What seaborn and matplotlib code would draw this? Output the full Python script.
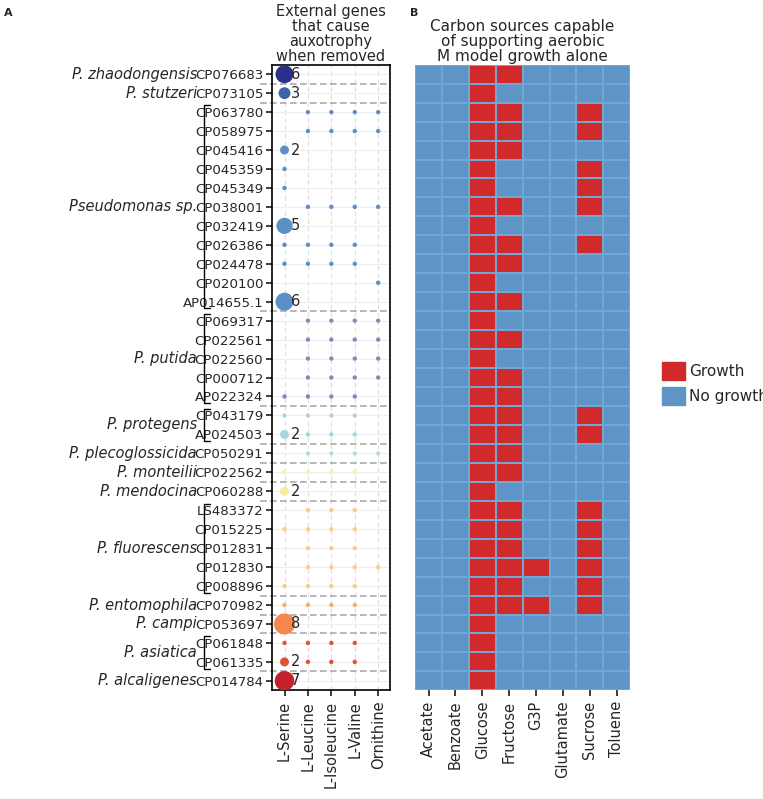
import numpy as np
import pandas as pd
import matplotlib
matplotlib.use("Agg")
import matplotlib.pyplot as plt
import seaborn as sns
from matplotlib.colors import ListedColormap
from matplotlib.patches import Patch
from matplotlib.transforms import blended_transform_factory

strains = ["CP076683","CP073105","CP063780","CP058975","CP045416","CP045359","CP045349",
           "CP038001","CP032419","CP026386","CP024478","CP020100","AP014655.1",
           "CP069317","CP022561","CP022560","CP000712","AP022324",
           "CP043179","AP024503","CP050291","CP022562","CP060288",
           "LS483372","CP015225","CP012831","CP012830","CP008896",
           "CP070982","CP053697","CP061848","CP061335","CP014784"]
species = [("P. zhaodongensis",0,0),("P. stutzeri",1,1),("Pseudomonas sp.",2,12),
           ("P. putida",13,17),("P. protegens",18,19),("P. plecoglossicida",20,20),
           ("P. monteilii",21,21),("P. mendocina",22,22),("P. fluorescens",23,27),
           ("P. entomophila",28,28),("P. campi",29,29),("P. asiatica",30,31),
           ("P. alcaligenes",32,32)]
species_colors = ["#2b2f8c","#3b62ad","#5b8fc6","#8c86b3","#a5d6e8","#b3dcea",
                  "#f3f1c0","#f6eea0","#f8d17f","#f5b064","#f3874c","#dc5437","#c4222a"]
genes = ["L-Serine","L-Leucine","L-Isoleucine","L-Valine","Ornithine"]
serine = [6,3,0,0,2,1,1,0,5,1,1,0,6,0,0,0,0,1,1,2,0,1,2,0,1,0,0,1,1,8,1,2,7]
leucine = [0,0,1,1,0,0,0,1,0,1,1,0,0,1,1,1,1,1,1,1,1,1,0,1,1,1,1,1,1,0,1,1,0]
isoleucine = leucine
valine = leucine
ornithine = [0,0,1,1,0,0,0,1,0,0,0,1,0,1,1,1,1,0,0,0,1,0,0,0,0,0,1,0,0,0,0,0,0]

sources = ["Acetate","Benzoate","Glucose","Fructose","G3P","Glutamate","Sucrose","Toluene"]
fructose = [1,0,1,1,1,0,0,1,0,1,1,0,1,0,1,0,1,1,1,1,1,1,0,1,1,1,1,1,1,0,0,0,0]
g3p = [0,0,0,0,0,0,0,0,0,0,0,0,0,0,0,0,0,0,0,0,0,0,0,0,0,0,1,0,1,0,0,0,0]
sucrose = [0,0,1,1,0,1,1,1,0,1,0,0,0,0,0,0,0,0,1,1,0,0,0,1,1,1,1,1,1,0,0,0,0]
glucose = [1]*33
zeros = [0]*33

strain_color = {}
for (name, a, b), c in zip(species, species_colors):
    for i in range(a, b+1):
        strain_color[strains[i]] = c
rows = []
for gi, vals in enumerate([serine, leucine, isoleucine, valine, ornithine]):
    for si, v in enumerate(vals):
        if v > 0:
            rows.append(dict(gene=genes[gi], strain=strains[si], count=v, gx=gi, sy=si))
df = pd.DataFrame(rows)

sns.set_theme(style="white")
plt.rcParams['font.family'] = ['DejaVu Sans']
fig = plt.figure(figsize=(7.63, 7.99), dpi=100)
ax1 = fig.add_axes([0.356, 0.136, 0.155, 0.783])
ax2 = fig.add_axes([0.544, 0.136, 0.282, 0.783])

for gi in range(5):
    ax1.axvline(gi, color="#dddddd", ls=(0, (4, 3)), lw=0.8, zorder=0)
for si in range(33):
    ax1.axhline(si, color="#eeeeee", lw=0.8, zorder=0)
sns.scatterplot(data=df, x="gx", y="sy", size="count", sizes=(10, 230), size_norm=(1, 8),
                hue="strain", palette=strain_color, legend=False, ax=ax1, linewidth=0, zorder=3)
for _, r in df.iterrows():
    if r["count"] > 1:
        ax1.text(r.gx + 0.28, r.sy, str(r["count"]), va="center", ha="left", fontsize=10.5, zorder=4)
ax1.set_xlim(-0.55, 4.5)
ax1.set_ylim(32.5, -0.5)
ax1.set_xticks(range(5))
ax1.set_xticklabels(genes, rotation=90, fontsize=10.5)
ax1.set_yticks(range(33))
ax1.set_yticklabels(strains, fontsize=9.6)
ax1.tick_params(axis="y", length=4, left=True, pad=2)
ax1.tick_params(axis="x", length=4, bottom=True)
ax1.set_xlabel(""); ax1.set_ylabel("")
for s in ax1.spines.values():
    s.set_color("black"); s.set_linewidth(1.2)
ax1.set_title("External genes\nthat cause\nauxotrophy\nwhen removed", fontsize=10.5, pad=3,
              linespacing=1.0)
tr = blended_transform_factory(ax1.transAxes, ax1.transData)
for (name, a, b) in species:
    if b > a:
        ax1.plot([-0.52, -0.57, -0.57, -0.52], [a - 0.35, a - 0.35, b + 0.35, b + 0.35],
                 color="black", lw=1, transform=tr, clip_on=False)
    ax1.text(-0.63, (a + b) / 2, name, ha="right", va="center", fontsize=10.5,
             style="italic", transform=tr)
    if b < 32:
        ax1.plot([-0.1, 1.0], [b + 0.5, b + 0.5], color="#aaaaaa", lw=1.2, ls=(0, (4, 2)),
                 transform=tr, clip_on=False, zorder=2)

mat = pd.DataFrame({"Acetate": zeros, "Benzoate": zeros, "Glucose": glucose, "Fructose": fructose,
                    "G3P": g3p, "Glutamate": zeros, "Sucrose": sucrose, "Toluene": zeros}, index=strains)
cmap = ListedColormap(["#5f95c6", "#d02a2a"])
sns.heatmap(mat, cmap=cmap, vmin=0, vmax=1, cbar=False, ax=ax2, linewidths=0.3,
            linecolor="#74a6d2")
ax2.set_yticks([])
ax2.set_xticklabels(sources, rotation=90, fontsize=10.5)
ax2.tick_params(axis="x", length=4, bottom=True)
ax2.set_title("Carbon sources capable\nof supporting aerobic\nM model growth alone", fontsize=11,
              pad=3, linespacing=1.0)

fig.legend(handles=[Patch(color="#d02a2a", label="Growth"), Patch(color="#5f95c6", label="No growth")],
           loc="center left", bbox_to_anchor=(0.868, 0.52), frameon=False, fontsize=11,
           handlelength=1.5, handleheight=1.4, handletextpad=0.25, borderaxespad=0, borderpad=0)

fig.text(0.005, 0.99, "A", fontsize=8, fontweight="bold", va="top")
fig.text(0.537, 0.99, "B", fontsize=8, fontweight="bold", va="top")
fig.savefig("out.png", dpi=100)
